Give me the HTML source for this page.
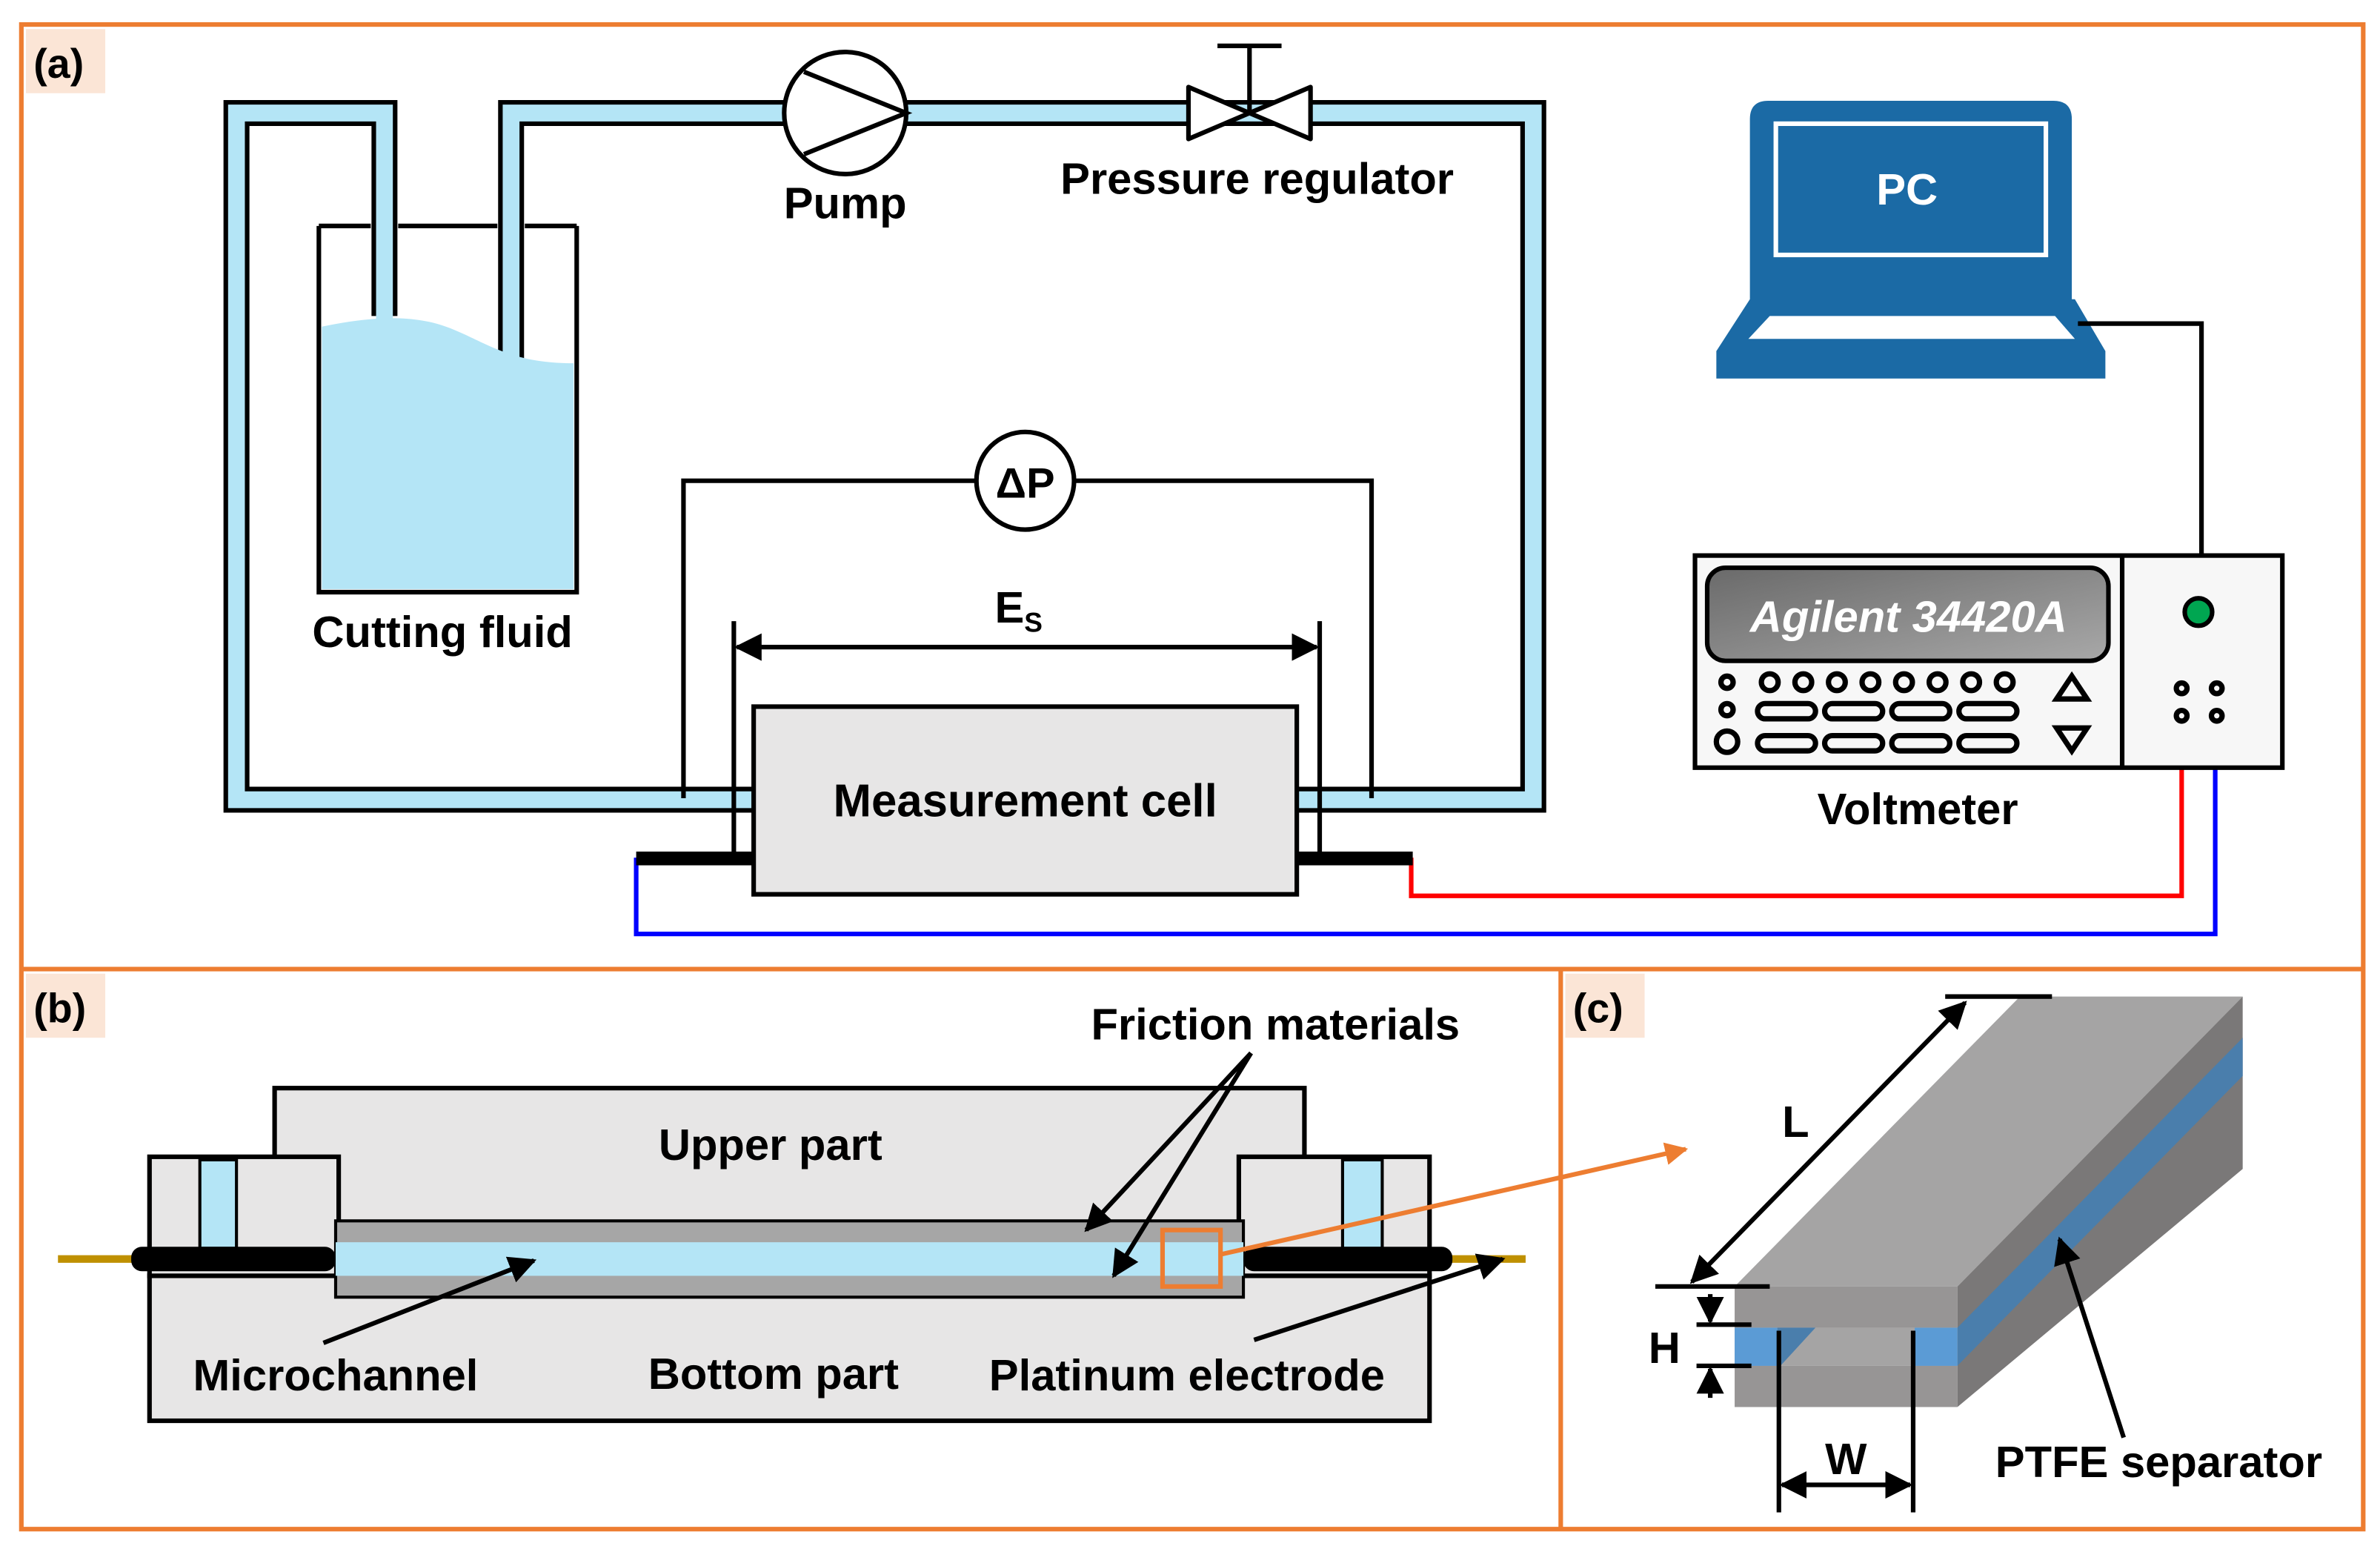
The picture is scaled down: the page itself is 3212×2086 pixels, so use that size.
<!DOCTYPE html>
<html><head><meta charset="utf-8"><style>html,body{margin:0;padding:0;background:#fff}svg{display:block}text{font-family:"Liberation Sans",sans-serif;font-weight:bold}</style></head>
<body>
<svg width="3212" height="2086" viewBox="0 0 1560 1013" xmlns="http://www.w3.org/2000/svg">
<defs>
<marker id="ah" viewBox="0 0 10 10" refX="9" refY="5" markerWidth="6" markerHeight="6" orient="auto-start-reverse"><path d="M0,0L10,5L0,10z" fill="#000"/></marker>
<marker id="ao" viewBox="0 0 10 10" refX="9" refY="5" markerWidth="5" markerHeight="5" orient="auto"><path d="M0,0L10,5L0,10z" fill="#ED7D31"/></marker>
<linearGradient id="dg" x1="0" y1="0" x2="1" y2="1"><stop offset="0" stop-color="#6a6a6a"/><stop offset="1" stop-color="#a8a8a8"/></linearGradient>
</defs>
<rect x="0" y="0" width="1560" height="1013" fill="#fff"/>
<rect x="14" y="16" width="1535" height="986" fill="none" stroke="#ED7D31" stroke-width="3"/>
<line x1="14" y1="635" x2="1549" y2="635" stroke="#ED7D31" stroke-width="3"/>
<line x1="1023" y1="635" x2="1023" y2="1002" stroke="#ED7D31" stroke-width="3"/>
<rect x="17" y="19" width="52" height="42" fill="#FBE5D6"/>
<text x="22" y="51" font-size="27">(a)</text>
<rect x="17" y="638" width="52" height="42" fill="#FBE5D6"/>
<text x="22" y="670" font-size="27">(b)</text>
<rect x="1026" y="638" width="52" height="42" fill="#FBE5D6"/>
<text x="1031" y="670" font-size="27">(c)</text>

<g fill="none" stroke-linejoin="miter">
<path d="M252 207V74H155V524H493" stroke="#000" stroke-width="17"/>
<path d="M335 235V74H1005V524H850" stroke="#000" stroke-width="17"/>
<path d="M252 209V74H155V524H495" stroke="#B4E5F6" stroke-width="11"/>
<path d="M335 237V74H1005V524H848" stroke="#B4E5F6" stroke-width="11"/>
</g>
<path d="M211 214 C240 208 270 205 295 215 C320 225 335 238 376 238 V386 H211Z" fill="#B4E5F6"/>
<path d="M209 148V388H378V148" fill="none" stroke="#000" stroke-width="3"/>
<line x1="209" y1="148" x2="243" y2="148" stroke="#000" stroke-width="3"/>
<line x1="261" y1="148" x2="326" y2="148" stroke="#000" stroke-width="3"/>
<line x1="344" y1="148" x2="378" y2="148" stroke="#000" stroke-width="3"/>
<text x="290" y="424" font-size="29" text-anchor="middle">Cutting fluid</text>

<circle cx="554" cy="74" r="40" fill="#fff" stroke="#000" stroke-width="3"/>
<path d="M527 47L594 74L527 101" fill="none" stroke="#000" stroke-width="3"/>
<text x="554" y="143" font-size="29" text-anchor="middle">Pump</text>
<path d="M779 57L859 91V57L779 91Z" fill="#fff" stroke="#000" stroke-width="3" stroke-linejoin="round"/>
<line x1="819" y1="74" x2="819" y2="30" stroke="#000" stroke-width="3"/>
<line x1="798" y1="30" x2="840" y2="30" stroke="#000" stroke-width="3"/>
<text x="824" y="127" font-size="29" text-anchor="middle">Pressure regulator</text>

<path d="M448 523V315H640M704 315H899V523" fill="none" stroke="#000" stroke-width="3"/>
<circle cx="672" cy="315" r="32" fill="#fff" stroke="#000" stroke-width="3"/>
<text x="672" y="326" font-size="28" text-anchor="middle">ΔP</text>
<line x1="481" y1="407" x2="481" y2="565" stroke="#000" stroke-width="3"/>
<line x1="865" y1="407" x2="865" y2="565" stroke="#000" stroke-width="3"/>
<line x1="483" y1="424" x2="863" y2="424" stroke="#000" stroke-width="3" marker-start="url(#ah)" marker-end="url(#ah)"/>
<text x="652" y="408" font-size="29">E<tspan font-size="18" dy="6">S</tspan></text>
<path d="M417 562V612H1452V470" fill="none" stroke="#0000FF" stroke-width="3"/>
<path d="M925 562V587H1430V470" fill="none" stroke="#FF0000" stroke-width="3"/>
<rect x="417" y="558" width="76" height="9" fill="#000"/>
<rect x="850" y="558" width="76" height="9" fill="#000"/>
<rect x="494" y="463" width="356" height="123" fill="#E7E6E6" stroke="#000" stroke-width="3"/>
<text x="672" y="535" font-size="30" text-anchor="middle">Measurement cell</text>

<path d="M1147 200V78Q1147 66 1159 66H1346Q1358 66 1358 78V200" fill="#1B6AA5"/>
<rect x="1164" y="81" width="177" height="86" fill="none" stroke="#fff" stroke-width="3"/>
<text x="1250" y="134" font-size="29" fill="#fff" text-anchor="middle">PC</text>
<path d="M1147 196H1360L1380 230V248H1125V230Z" fill="#1B6AA5"/>
<path d="M1160 207H1347L1360 222H1146Z" fill="#fff"/>
<path d="M1362 212H1443V364" fill="none" stroke="#000" stroke-width="3"/>

<rect x="1111" y="364" width="385" height="139" fill="#F7F7F7" stroke="#000" stroke-width="3"/>
<line x1="1391" y1="364" x2="1391" y2="503" stroke="#000" stroke-width="3"/>
<rect x="1119" y="372" width="263" height="61" rx="12" fill="url(#dg)" stroke="#000" stroke-width="3"/>
<text x="1251" y="414" font-size="29" fill="#fff" font-style="italic" text-anchor="middle">Agilent 34420A</text>
<g fill="none" stroke="#000" stroke-width="3.5">
<circle cx="1132" cy="447" r="4"/>
<circle cx="1160" cy="447" r="5.5"/><circle cx="1182" cy="447" r="5.5"/><circle cx="1204" cy="447" r="5.5"/><circle cx="1226" cy="447" r="5.5"/><circle cx="1248" cy="447" r="5.5"/><circle cx="1270" cy="447" r="5.5"/><circle cx="1292" cy="447" r="5.5"/><circle cx="1314" cy="447" r="5.5"/>
<circle cx="1132" cy="465" r="4"/>
<circle cx="1132" cy="486" r="7"/>
<rect x="1152" y="461" width="38" height="10" rx="5"/><rect x="1196" y="461" width="38" height="10" rx="5"/><rect x="1240" y="461" width="38" height="10" rx="5"/><rect x="1284" y="461" width="38" height="10" rx="5"/>
<rect x="1152" y="482" width="38" height="10" rx="5"/><rect x="1196" y="482" width="38" height="10" rx="5"/><rect x="1240" y="482" width="38" height="10" rx="5"/><rect x="1284" y="482" width="38" height="10" rx="5"/>
<path d="M1358 443L1348 458H1368Z"/><path d="M1358 492L1348 477H1368Z"/>
<circle cx="1430" cy="451" r="3.5"/><circle cx="1453" cy="451" r="3.5"/><circle cx="1430" cy="469" r="3.5"/><circle cx="1453" cy="469" r="3.5"/>
</g>
<circle cx="1441" cy="401" r="9" fill="#00A651" stroke="#000" stroke-width="3"/>
<text x="1257" y="540" font-size="29" text-anchor="middle">Voltmeter</text>

<rect x="180" y="713" width="675" height="90" fill="#E7E6E6" stroke="#000" stroke-width="3"/>
<rect x="98" y="836" width="839" height="95" fill="#E7E6E6" stroke="#000" stroke-width="3"/>
<rect x="98" y="758" width="124" height="78" fill="#E7E6E6" stroke="#000" stroke-width="3"/>
<rect x="812" y="758" width="125" height="78" fill="#E7E6E6" stroke="#000" stroke-width="3"/>
<rect x="220" y="800" width="595" height="50" fill="#A6A6A6" stroke="#000" stroke-width="2"/>
<rect x="220" y="814" width="595" height="22" fill="#B4E5F6"/>
<rect x="131" y="760" width="24" height="58" fill="#B4E5F6" stroke="#000" stroke-width="2"/>
<rect x="880" y="760" width="26" height="58" fill="#B4E5F6" stroke="#000" stroke-width="2"/>
<line x1="38" y1="825" x2="90" y2="825" stroke="#BF9000" stroke-width="5"/>
<line x1="945" y1="825" x2="1000" y2="825" stroke="#BF9000" stroke-width="5"/>
<rect x="86" y="817" width="134" height="16" rx="7" fill="#000"/>
<rect x="815" y="817" width="137" height="16" rx="7" fill="#000"/>
<rect x="762" y="806" width="38" height="37" fill="none" stroke="#ED7D31" stroke-width="3"/>
<line x1="800" y1="822" x2="1105" y2="753" stroke="#ED7D31" stroke-width="3" marker-end="url(#ao)"/>
<text x="505" y="760" font-size="29" text-anchor="middle">Upper part</text>
<text x="220" y="911" font-size="29" text-anchor="middle">Microchannel</text>
<text x="507" y="910" font-size="29" text-anchor="middle">Bottom part</text>
<text x="778" y="911" font-size="29" text-anchor="middle">Platinum electrode</text>
<text x="836" y="681" font-size="29" text-anchor="middle">Friction materials</text>
<g stroke="#000" stroke-width="3" marker-end="url(#ah)">
<line x1="820" y1="690" x2="712" y2="806"/>
<line x1="820" y1="690" x2="730" y2="836"/>
<line x1="212" y1="880" x2="350" y2="826"/>
<line x1="822" y1="878" x2="985" y2="825"/>
</g>

<path d="M1137 843H1283L1470 653H1324Z" fill="#A5A4A4"/>
<path d="M1283 843L1470 653V766L1283 922Z" fill="#7A7878"/>
<path d="M1283 870L1470 680V705L1283 895Z" fill="#4A7EAC"/>
<rect x="1137" y="843" width="146" height="27" fill="#979595"/>
<rect x="1137" y="895" width="146" height="27" fill="#979595"/>
<rect x="1137" y="870" width="146" height="25" fill="#A5A4A4"/>
<rect x="1137" y="870" width="28" height="25" fill="#5B9BD5"/>
<rect x="1255" y="870" width="28" height="25" fill="#5B9BD5"/>
<path d="M1165 870H1190L1167 895H1165Z" fill="#4A7EAC"/>
<g stroke="#000" stroke-width="3">
<line x1="1085" y1="843" x2="1160" y2="843"/>
<line x1="1275" y1="653" x2="1345" y2="653"/>
<line x1="1109" y1="840" x2="1288" y2="657" marker-start="url(#ah)" marker-end="url(#ah)"/>
<line x1="1112" y1="868" x2="1148" y2="868"/>
<line x1="1112" y1="895" x2="1148" y2="895"/>
<line x1="1121" y1="848" x2="1121" y2="866" marker-end="url(#ah)"/>
<line x1="1121" y1="916" x2="1121" y2="897" marker-end="url(#ah)"/>
<line x1="1166" y1="872" x2="1166" y2="991"/>
<line x1="1254" y1="872" x2="1254" y2="991"/>
<line x1="1168" y1="973" x2="1252" y2="973" marker-start="url(#ah)" marker-end="url(#ah)"/>
<line x1="1392" y1="942" x2="1350" y2="812" marker-end="url(#ah)"/>
</g>
<text x="1177" y="745" font-size="29" text-anchor="middle">L</text>
<text x="1091" y="893" font-size="29" text-anchor="middle">H</text>
<text x="1210" y="966" font-size="29" text-anchor="middle">W</text>
<text x="1415" y="968" font-size="29" text-anchor="middle">PTFE separator</text>
</svg>
</body></html>
